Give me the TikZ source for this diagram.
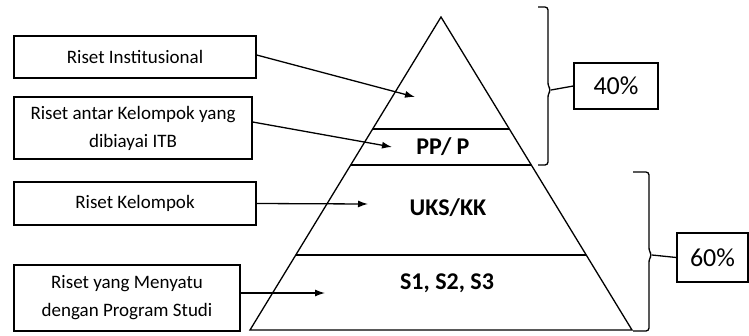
\documentclass[tikz,border=0pt]{standalone}
\usepackage{fontspec}
\setmainfont{Carlito}
\usetikzlibrary{arrows.meta,calc}
\begin{document}
\begin{tikzpicture}[x=1pt,y=-1pt,line width=1.3pt,
  lbox/.style={draw,rectangle,inner sep=0pt,align=center,font=\fontsize{19}{28}\selectfont},
  pbox/.style={draw,rectangle,inner sep=0pt,font=\fontsize{26}{30}\selectfont},
  lvl/.style={font=\fontsize{24}{28}\selectfont\bfseries},
  arr/.style={-{Latex[length=10pt,width=7pt]}},
  brace/.style={rounded corners=3pt}]
\useasboundingbox (0,0) rectangle (749,335);
\coordinate (apex) at (441,17);
\coordinate (bl) at (250,330);
\coordinate (br) at (632,330);
\draw (apex) -- (bl) -- (br) -- cycle;
\draw ($(apex)!0.358!(bl)$) -- ($(apex)!0.358!(br)$);
\draw ($(apex)!0.473!(bl)$) -- ($(apex)!0.473!(br)$);
\draw ($(apex)!0.760!(bl)$) -- ($(apex)!0.760!(br)$);
\node[lvl] (pp) at (443,147) {PP/ P};
\node[lvl] (uks) at (448,208) {UKS/KK};
\node[lvl] (s123) at (447,283) {S1, S2, S3};
\node[lbox, minimum width=242, minimum height=42] (inst) at (135,57) {Riset Institusional};
\node[lbox, minimum width=238, minimum height=62] (antar) at (133,128) {Riset antar Kelompok yang\\dibiayai ITB};
\node[lbox, minimum width=242, minimum height=43] (kel) at (135,203.5) {Riset Kelompok};
\node[lbox, minimum width=226, minimum height=66] (prodi) at (127,298) {Riset yang Menyatu\\dengan Program Studi};
\coordinate (tinst) at (415,97);
\coordinate (tantar) at (392,147);
\coordinate (tkel) at (368,204);
\coordinate (tprodi) at (325,293);
\draw[arr] (inst.east) ++(0,-2) -- (tinst);
\draw[arr] (antar.east) ++(0,-6) -- (tantar);
\draw[arr] (kel.east) -- (tkel);
\draw[arr] (prodi.east) ++(0,-5) -- (tprodi);
\node[pbox, minimum width=84, minimum height=46] (p40) at (616,86) {40\%};
\node[pbox, minimum width=71, minimum height=49] (p60) at (712.5,257.5) {60\%};
\coordinate (b40) at (551,90);
\coordinate (b60) at (652,255);
\draw[brace] (538,7) -- (548,7) -- (548,86) -- (b40) -- (548,94) -- (548,165) -- (538,165);
\draw (b40) -- (p40.west);
\draw[brace] (633,172) -- (649,172) -- (649,251) -- (b60) -- (649,259) -- (649,331) -- (633,331);
\draw (b60) -- (p60.west);
\end{tikzpicture}
\end{document}
